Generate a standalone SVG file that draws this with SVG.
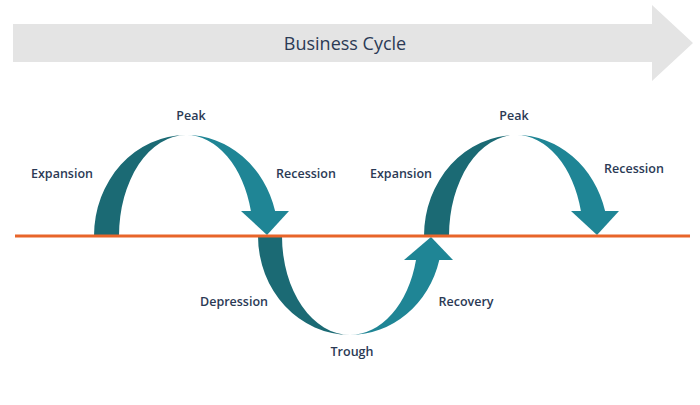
<svg xmlns="http://www.w3.org/2000/svg" width="700" height="405" viewBox="0 0 700 405">
<style>
.lbl{font-family:"Open Sans","Noto Sans",sans-serif;font-weight:600;font-size:12.5px;fill:#2b3a55;text-anchor:middle}
.title{font-family:"Open Sans","Noto Sans",sans-serif;font-weight:400;font-size:18px;fill:#2b3a55;text-anchor:middle}
.dark{fill:#1b6a74}
.light{fill:#1f8595}
</style>
<rect width="700" height="405" fill="#ffffff"/>
<g id="banner">
<polygon points="13,24 652,24 652,5 693,43 652,81 652,62 13,62" fill="#e4e4e4"/>
<text class="title" x="345" y="50">Business Cycle</text>
</g>
<g id="connectors">
<g id="arc-expansion1">
<path class="dark" d="M94 236 A92 101 0 0 1 186 135 A67 101 0 0 0 119 236 Z"/>
</g>
<g id="arc-recession1">
<path class="light" d="M186 135 A92 101 0 0 1 275.1 211 L250.9 211 A67 101 0 0 0 186 135 Z"/>
<polygon class="light" points="241,211 289,211 267,235"/>
</g>
<g id="arc-expansion2">
<path class="dark" d="M424 236 A92 101 0 0 1 516 135 A67 101 0 0 0 449 236 Z"/>
</g>
<g id="arc-depression">
<path class="dark" d="M258 236 A92 99 0 0 0 350 335 A68 99 0 0 1 282 236 Z"/>
</g>
<g id="arc-recovery">
<path class="light" d="M350 335 A92 99 0 0 0 439.3 260 L416 260 A68 99 0 0 1 350 335 Z"/>
<polygon class="light" points="404,260 453,260 431,237"/>
</g>
<g id="arc-recession2">
<path class="light" d="M516 135 A92 101 0 0 1 605.1 211 L580.9 211 A67 101 0 0 0 516 135 Z"/>
<polygon class="light" points="571,211 619,211 597,235"/>
</g>
</g>
<g id="baseline">
<line x1="15" y1="236" x2="690" y2="236" stroke="#e8652a" stroke-width="3"/>
</g>
<g id="labels">
<text class="lbl" id="peak1" x="191" y="120">Peak</text>
<text class="lbl" id="expansion1" x="62" y="178">Expansion</text>
<text class="lbl" id="recession1" x="306" y="178">Recession</text>
<text class="lbl" id="expansion2" x="401" y="178">Expansion</text>
<text class="lbl" id="peak2" x="514" y="120">Peak</text>
<text class="lbl" id="recession2" x="634" y="173">Recession</text>
<text class="lbl" id="depression" x="234" y="306">Depression</text>
<text class="lbl" id="recovery" x="466" y="306">Recovery</text>
<text class="lbl" id="trough" x="352" y="356">Trough</text>
</g>
</svg>
